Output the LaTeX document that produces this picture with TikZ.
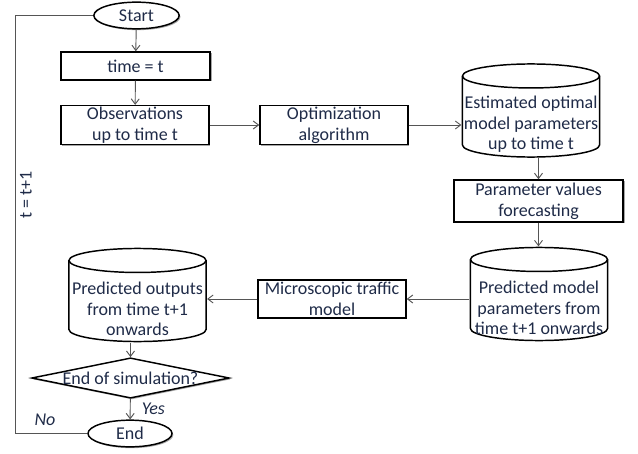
\documentclass[tikz,border=0pt]{standalone}
\usepackage{fontspec}
\setmainfont{Carlito}
\usepackage{xcolor}
\usetikzlibrary{arrows.meta,positioning,shapes.geometric,shadows}
\definecolor{ink}{HTML}{1F2B48}
\definecolor{wire}{HTML}{555555}

\begin{document}
\begin{tikzpicture}[x=0.75pt,y=-0.75pt,>={Straight Barb[length=4pt,width=6pt]},
font=\fontsize{13.5}{15.5}\selectfont,text=ink,
shade/.style={drop shadow={shadow xshift=1pt,shadow yshift=-1pt,opacity=0.35,fill=black}},
stepbox/.style={draw,line width=1.1pt,fill=white,shade,align=center,inner sep=1pt},
terminal/.style={stepbox,ellipse,minimum width=64pt,minimum height=20pt,inner sep=0pt},
store/.style={minimum width=104pt,minimum height=71pt,inner sep=0pt,
  path picture={
    \draw[line width=1.1pt,fill=white]
      ([xshift=0.6pt,yshift=-9.6pt]path picture bounding box.north west)
      -- ([xshift=0.6pt,yshift=9.6pt]path picture bounding box.south west)
      arc[start angle=180,end angle=360,x radius=51.4pt,y radius=9pt]
      -- ([xshift=-0.6pt,yshift=-9.6pt]path picture bounding box.north east)
      arc[start angle=0,end angle=180,x radius=51.4pt,y radius=9pt] -- cycle;
    \draw[line width=1.1pt]
      ([xshift=0.6pt,yshift=-9.6pt]path picture bounding box.north west)
      arc[start angle=180,end angle=360,x radius=51.4pt,y radius=9pt];}},
inside/.style={align=center,yshift=-10.5pt},
decision/.style={stepbox,diamond,aspect=4.9,minimum width=146pt,minimum height=30pt,inner sep=0pt},
flow/.style={->,wire,line width=0.7pt},
tag/.style={text=ink,font=\fontsize{13.5}{15.5}\selectfont\itshape}]
\useasboundingbox (0,0) rectangle (638,453);
% top row
\node[terminal] (start) at (136.5,15.5) {Start};
\node[stepbox,minimum width=112pt,minimum height=21pt] (time) at (135.5,66) {time = t};
\node[stepbox,minimum width=111pt,minimum height=28.5pt] (obs) at (135,125) {Observations\\up to time t};
\node[stepbox,minimum width=111pt,minimum height=28.5pt] (opt) at (334,125) {Optimization\\algorithm};
\node[store,label={[inside,name=esttext]center:Estimated optimal\\model parameters\\up to time t}] (est) at (531,110.5) {};
% right column
\node[stepbox,minimum width=127pt,minimum height=31.5pt] (fcast) at (538.5,201) {Parameter values\\forecasting};
\node[store,label={[inside,name=predpartext]center:Predicted model\\parameters from\\time t+1 onwards}] (predpar) at (539,294) {};
% bottom row
\node[stepbox,minimum width=111pt,minimum height=28.5pt] (micro) at (332,299) {Microscopic traffic\\model};
\node[store,label={[inside,name=predouttext]center:Predicted outputs\\from time t+1\\onwards}] (predout) at (137.5,295) {};
\node[decision] (sim) at (130.5,378) {End of simulation?};
\node[terminal,minimum width=63pt] (end) at (130,433.5) {End};

\draw[flow] (start) -- (time);
\draw[flow] (time) -- (obs);
\draw[flow] (obs) -- (opt);
\draw[flow] (opt) -- (est.west |- opt);
\draw[flow] (est.south -| fcast) -- (fcast);
\draw[flow] (fcast) -- (predpar.north -| fcast);
\draw[flow] (predpar.west |- micro) -- (micro);
\draw[flow] (micro) -- (predout.east |- micro);
\draw[flow] (predout.south -| sim) -- (sim);
\draw[flow] (sim) -- node[right=5pt,tag] (yes) {Yes} (end);
% loop back
\coordinate (back) at (15,0);
\draw[wire,line width=0.7pt] (end.west) -- (end.west -| back) -- (start.west -| back) -- (start.west);
\node[rotate=90] (incr) at (26,195) {t = t+1};
\node[tag] (no) at (45,420) {No};
\end{tikzpicture}
\end{document}
